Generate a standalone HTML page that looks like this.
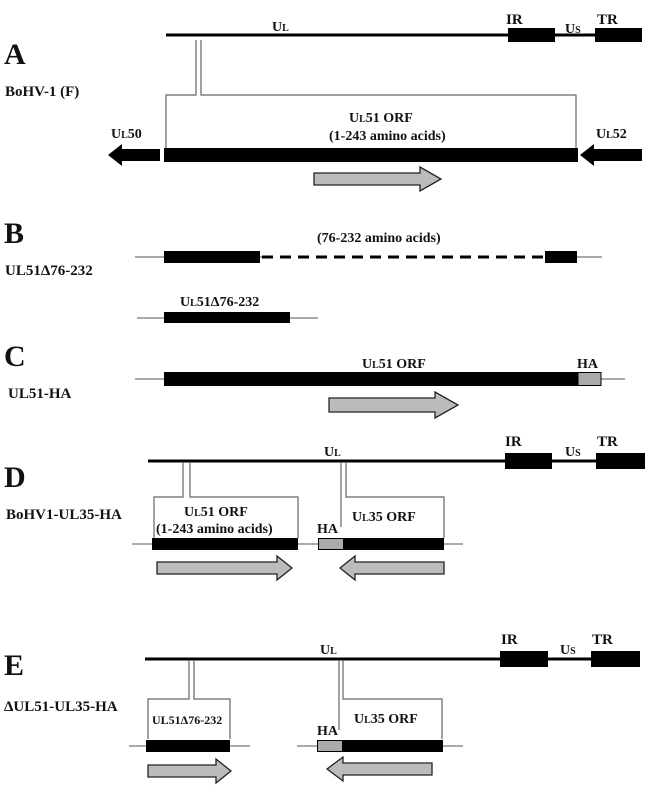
<!DOCTYPE html>
<html><head><meta charset="utf-8"><style>
html,body{margin:0;padding:0;background:#fff;width:650px;height:793px;overflow:hidden}
svg text{font-family:"Liberation Serif",serif;font-weight:bold;fill:#111}
.t{font-size:14px}
.l{font-size:15px}
.s{font-size:12px}
.big{font-size:30px}
</style></head><body>
<svg width="650" height="793" viewBox="0 0 650 793" xmlns="http://www.w3.org/2000/svg">
<g stroke="#000" fill="none">
<!-- A -->
<line x1="166" y1="35" x2="642" y2="35" stroke-width="3"/>
<rect x="508" y="28" width="47" height="14" fill="#000" stroke="none"/>
<rect x="595" y="28" width="47" height="14" fill="#000" stroke="none"/>
<polyline points="196,40 196,95 166,95 166,148" stroke="#666" stroke-width="1.2"/>
<polyline points="201,40 201,95 576,95 576,148" stroke="#666" stroke-width="1.2"/>
<rect x="164" y="148" width="414" height="14" fill="#000" stroke="none"/>
<polygon points="108,155 122,144 122,149 160,149 160,161 122,161 122,166" fill="#000" stroke="none"/>
<polygon points="580,155 594,144 594,149 642,149 642,161 594,161 594,166" fill="#000" stroke="none"/>
<polygon points="314,173 420,173 420,167 441,179 420,191 420,185 314,185" fill="#bbb" stroke="#222" stroke-width="1.3"/>
<!-- B -->
<line x1="135" y1="257" x2="602" y2="257" stroke="#555" stroke-width="1"/>
<rect x="164" y="251" width="96" height="12" fill="#000" stroke="none"/>
<rect x="262" y="250" width="283" height="14" fill="#fff" stroke="none"/>
<line x1="262" y1="257" x2="545" y2="257" stroke-width="3" stroke-dasharray="11,7"/>
<rect x="545" y="251" width="32" height="12" fill="#000" stroke="none"/>
<line x1="137" y1="318" x2="318" y2="318" stroke="#555" stroke-width="1"/>
<rect x="164" y="312" width="126" height="11" fill="#000" stroke="none"/>
<!-- C -->
<line x1="135" y1="379" x2="625" y2="379" stroke="#555" stroke-width="1"/>
<rect x="164" y="372" width="414" height="14" fill="#000" stroke="none"/>
<rect x="578" y="372.5" width="23" height="13" fill="#aaa" stroke="#000" stroke-width="1"/>
<polygon points="329,398 435,398 435,392 458,405 435,418 435,412 329,412" fill="#bbb" stroke="#222" stroke-width="1.3"/>
<!-- D -->
<line x1="148" y1="461" x2="645" y2="461" stroke-width="3"/>
<rect x="505" y="453" width="47" height="16" fill="#000" stroke="none"/>
<rect x="596" y="453" width="49" height="16" fill="#000" stroke="none"/>
<polyline points="183,462 183,497 154,497 154,538" stroke="#666" stroke-width="1.2"/>
<polyline points="190,462 190,497 298,497 298,538" stroke="#666" stroke-width="1.2"/>
<line x1="341" y1="462" x2="341" y2="527" stroke="#666" stroke-width="1.2"/>
<polyline points="346,462 346,497 444,497 444,538" stroke="#666" stroke-width="1.2"/>
<line x1="132" y1="544" x2="312" y2="544" stroke="#555" stroke-width="1"/>
<rect x="152" y="538" width="146" height="12" fill="#000" stroke="none"/>
<line x1="308" y1="544" x2="463" y2="544" stroke="#555" stroke-width="1"/>
<rect x="343" y="538" width="101" height="12" fill="#000" stroke="none"/>
<rect x="318.5" y="538.5" width="25" height="11" fill="#aaa" stroke="#000" stroke-width="1"/>
<polygon points="157,562 277,562 277,556 292,568 277,580 277,574 157,574" fill="#bbb" stroke="#222" stroke-width="1.3"/>
<polygon points="340,568 355,556 355,562 444,562 444,574 355,574 355,580" fill="#bbb" stroke="#222" stroke-width="1.3"/>
<!-- E -->
<line x1="145" y1="659" x2="640" y2="659" stroke-width="3"/>
<rect x="500" y="651" width="48" height="16" fill="#000" stroke="none"/>
<rect x="591" y="651" width="49" height="16" fill="#000" stroke="none"/>
<polyline points="189,660 189,699 148,699 148,739" stroke="#666" stroke-width="1.2"/>
<polyline points="194,660 194,699 230,699 230,739" stroke="#666" stroke-width="1.2"/>
<line x1="339" y1="660" x2="339" y2="730" stroke="#666" stroke-width="1.2"/>
<polyline points="343,660 343,699 442,699 442,739" stroke="#666" stroke-width="1.2"/>
<line x1="129" y1="746" x2="250" y2="746" stroke="#555" stroke-width="1"/>
<rect x="146" y="740" width="84" height="12" fill="#000" stroke="none"/>
<line x1="297" y1="746" x2="463" y2="746" stroke="#555" stroke-width="1"/>
<rect x="342" y="740" width="101" height="12" fill="#000" stroke="none"/>
<rect x="317.5" y="740.5" width="25" height="11" fill="#aaa" stroke="#000" stroke-width="1"/>
<polygon points="148,765 216,765 216,759 231,771 216,783 216,777 148,777" fill="#bbb" stroke="#222" stroke-width="1.3"/>
<polygon points="327,769 343,757 343,763 432,763 432,775 343,775 343,781" fill="#bbb" stroke="#222" stroke-width="1.3"/>
</g>
<!-- labels -->
<text x="4" y="64" class="big">A</text>
<text x="5" y="96" class="l">BoHV-1 (F)</text>
<text x="272" y="31" class="t">U<tspan font-size="10">L</tspan></text>
<text x="506" y="24" class="l">IR</text>
<text x="565" y="33" class="t">U<tspan font-size="10">S</tspan></text>
<text x="597" y="24" class="l">TR</text>
<text x="349" y="122" class="t">U<tspan font-size="10">L</tspan>51 ORF</text>
<text x="329" y="140" class="t">(1-243 amino acids)</text>
<text x="111" y="138" class="t">U<tspan font-size="10">L</tspan>50</text>
<text x="596" y="138" class="t">U<tspan font-size="10">L</tspan>52</text>
<text x="4" y="243" class="big">B</text>
<text x="5" y="275" class="l">UL51Δ76-232</text>
<text x="317" y="242" class="t">(76-232 amino acids)</text>
<text x="180" y="306" class="t">U<tspan font-size="10">L</tspan>51Δ76-232</text>
<text x="4" y="366" class="big">C</text>
<text x="8" y="398" class="l">UL51-HA</text>
<text x="362" y="368" class="t">U<tspan font-size="10">L</tspan>51 ORF</text>
<text x="577" y="368" class="t">HA</text>
<text x="4" y="487" class="big">D</text>
<text x="6" y="519" class="l">BoHV1-UL35-HA</text>
<text x="324" y="456" class="t">U<tspan font-size="10">L</tspan></text>
<text x="505" y="446" class="l">IR</text>
<text x="565" y="456" class="t">U<tspan font-size="10">S</tspan></text>
<text x="597" y="446" class="l">TR</text>
<text x="184" y="516" class="t">U<tspan font-size="10">L</tspan>51 ORF</text>
<text x="156" y="533" class="t">(1-243 amino acids)</text>
<text x="317" y="533" class="t">HA</text>
<text x="352" y="521" class="t">U<tspan font-size="10">L</tspan>35 ORF</text>
<text x="4" y="675" class="big">E</text>
<text x="4" y="711" class="l">ΔUL51-UL35-HA</text>
<text x="320" y="654" class="t">U<tspan font-size="10">L</tspan></text>
<text x="501" y="644" class="l">IR</text>
<text x="560" y="654" class="t">U<tspan font-size="10">S</tspan></text>
<text x="592" y="644" class="l">TR</text>
<text x="152" y="724" class="s">UL51Δ76-232</text>
<text x="317" y="735" class="t">HA</text>
<text x="354" y="723" class="t">U<tspan font-size="10">L</tspan>35 ORF</text>
</svg>
</body></html>
